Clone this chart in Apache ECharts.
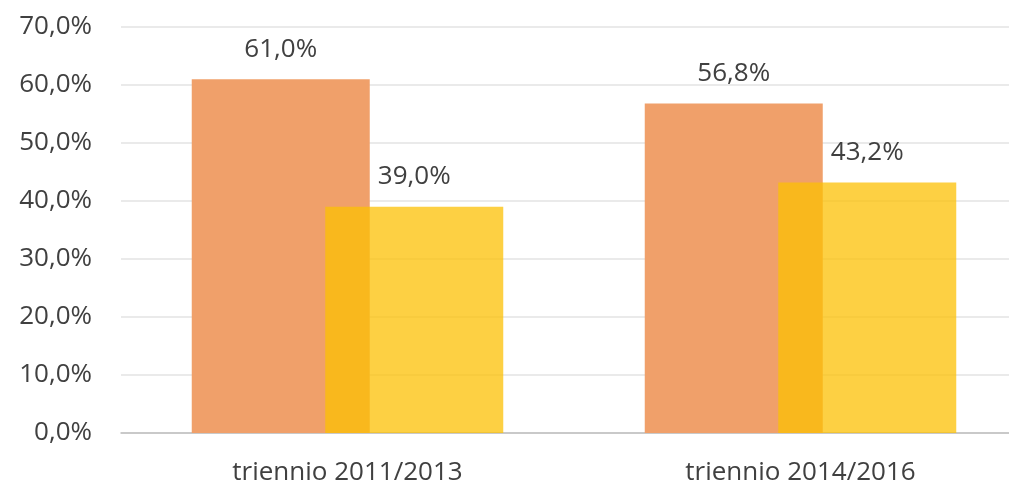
<!DOCTYPE html>
<html>
<head>
<meta charset="utf-8">
<script src="https://cdn.jsdelivr.net/npm/echarts@6/dist/echarts.min.js"></script>
<style>
  html, body { margin: 0; padding: 0; background: #fff; overflow: hidden; }
  #main { width: 1027px; height: 489px; }
</style>
</head>
<body>
<div id="main"></div>
<script>
var categories = ["triennio 2011/2013", "triennio 2014/2016"];
var firstValues = [61.0, 56.8];
var secondValues = [39.0, 43.2];
var yTicks = [0, 10, 20, 30, 40, 50, 60, 70];

function pct(v) {
  return v.toFixed(1).replace(".", ",") + "%";
}

var textColor = "#404040";
var font = "Open Sans";

var option = {
  animation: false,
  backgroundColor: "#fff",
  // grid runs past the right edge of the window, like the original
  grid: {
    left: 121,
    right: 0,
    top: 27,
    bottom: 56,
  },
  xAxis: {
    type: "category",
    data: categories,
    axisTick: { show: false },
    axisLine: { lineStyle: { color: "#bfbfbf", width: 1.5 } },
    axisLabel: {
      color: textColor,
      fontFamily: font,
      fontSize: 26,
      margin: 27,
    },
  },
  yAxis: {
    type: "value",
    min: yTicks[0],
    max: yTicks[yTicks.length - 1],
    interval: 10,
    axisLine: { show: false },
    axisTick: { show: false },
    splitLine: { lineStyle: { color: "#e3e3e3", width: 1.5 } },
    axisLabel: {
      color: textColor,
      fontFamily: font,
      fontSize: 26,
      margin: 29,
      formatter: function (v) {
        return pct(v);
      },
    },
  },
  series: [
    {
      type: "bar",
      data: firstValues,
      barWidth: 178,
      barGap: "-25%",
      itemStyle: { color: "#f0a06a" },
      label: {
        show: true,
        position: "top",
        distance: 17,
        color: textColor,
        fontFamily: font,
        fontSize: 26,
        formatter: function (p) {
          return pct(p.value);
        },
      },
    },
    {
      type: "bar",
      data: secondValues,
      barWidth: 178,
      itemStyle: { color: "rgba(252, 192, 4, 0.75)" },
      label: {
        show: true,
        position: "top",
        distance: 17,
        color: textColor,
        fontFamily: font,
        fontSize: 26,
        formatter: function (p) {
          return pct(p.value);
        },
      },
    },
  ],
};

var myChart = echarts.init(document.getElementById("main"));
myChart.setOption(option);
</script>
</body>
</html>
